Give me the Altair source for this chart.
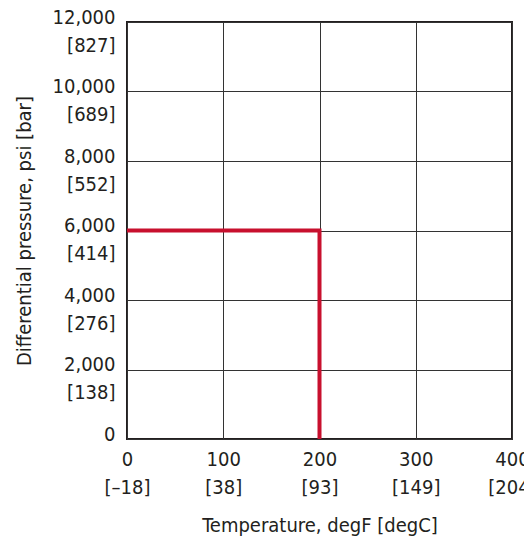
import altair as alt
import pandas as pd

# Axis ticks
temp_f = [0, 100, 200, 300, 400]
temp_c = ["[–18]", "[38]", "[93]", "[149]", "[204]"]
pressure_psi = [0, 2000, 4000, 6000, 8000, 10000, 12000]
pressure_bar = ["", "[138]", "[276]", "[414]", "[552]", "[689]", "[827]"]

# Operating envelope line
limit_temp = [0, 200, 200]
limit_psi = [6000, 6000, 0]
limit_order = [0, 1, 2]

df = pd.DataFrame({"t": limit_temp, "p": limit_psi, "o": limit_order})

FONT = "Liberation Sans Narrow, DejaVu Sans Condensed, sans-serif"
TXT = "#231f20"

def arr(xs):
    return "[" + ",".join(repr(x) if isinstance(x, str) else str(x) for x in xs) + "]"

x_expr = f"[format(datum.value, ','), {arr(temp_c)}[indexof({arr(temp_f)}, datum.value)]]"
y_expr = (f"datum.value == 0 ? '0' : [format(datum.value, ','), "
          f"{arr(pressure_bar)}[indexof({arr(pressure_psi)}, datum.value)]]")

chart = alt.Chart(df).mark_line(
    color="#c8102e", strokeWidth=4, strokeJoin="miter", strokeCap="butt"
).encode(
    x=alt.X("t:Q", scale=alt.Scale(domain=[0, 400], nice=False),
            axis=alt.Axis(values=temp_f, labelExpr=x_expr,
                          title="Temperature, degF [degC]")),
    y=alt.Y("p:Q", scale=alt.Scale(domain=[0, 12000], nice=False),
            axis=alt.Axis(values=pressure_psi, labelExpr=y_expr,
                          title="Differential pressure, psi [bar]")),
    order="o:Q",
).properties(
    width=385, height=417,
    autosize=alt.AutoSizeParams(type="none"),
    padding={"left": 119, "top": 14, "right": 12, "bottom": 100},
).configure_view(
    stroke=TXT, strokeWidth=2
).configure_axis(
    grid=True, gridColor="#333333", gridWidth=1, gridOpacity=1,
    domain=False, ticks=False,
    labelFont=FONT, labelFontSize=20, labelColor=TXT, labelLineHeight=28,
    titleFont=FONT, titleFontSize=20, titleColor=TXT, titleFontWeight="normal",
).configure_axisX(
    labelBaseline="top", labelPadding=10, labelAlign="center",
    titlePadding=18,
).configure_axisY(
    labelBaseline="middle", labelOffset=-5, labelPadding=12, labelAlign="right",
    titlePadding=18,
)

chart.save("out.html", embed_options={"renderer": "svg", "actions": False})
